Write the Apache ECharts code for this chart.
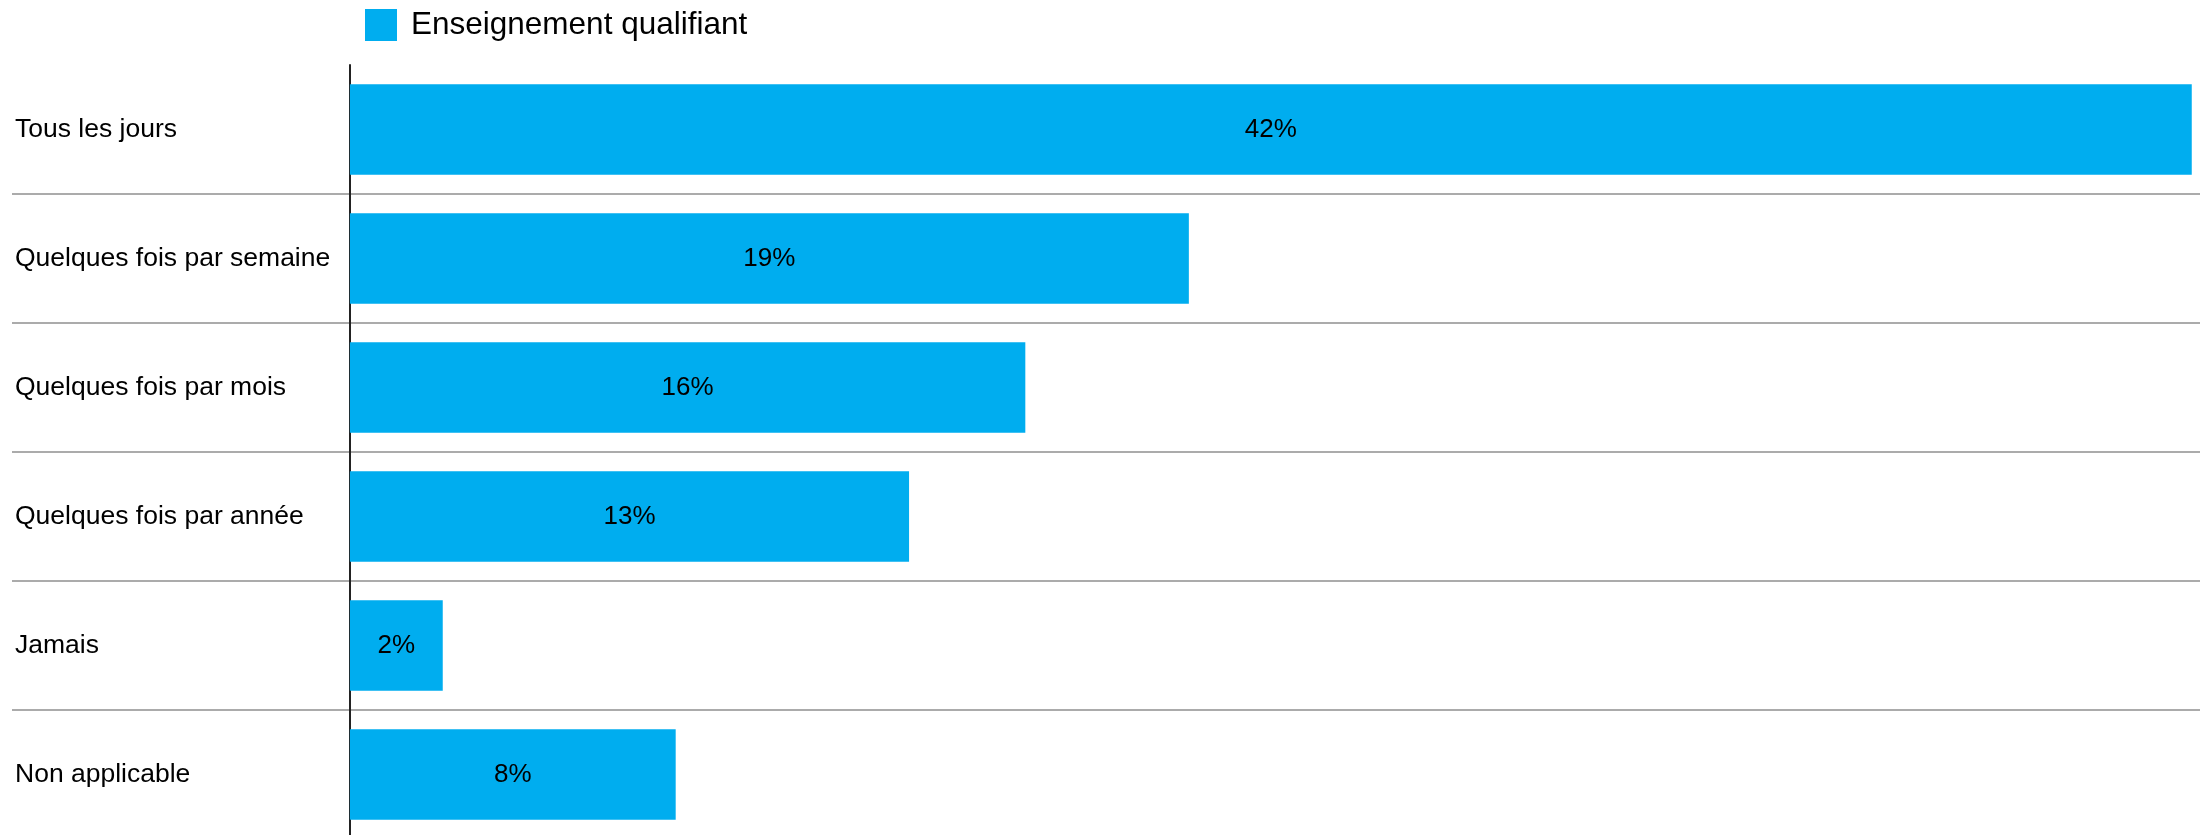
<!DOCTYPE html>
<html>
<head>
<meta charset="utf-8">
<script src="https://cdn.jsdelivr.net/npm/echarts@6/dist/echarts.min.js"></script>
<style>
  html, body { margin: 0; padding: 0; background: #fff; }
  #chart { width: 2200px; height: 835px; }
</style>
</head>
<body>
<div id="chart"></div>
<script>
// categories, top to bottom
const categories = ['Tous les jours', 'Quelques fois par semaine', 'Quelques fois par mois',
  'Quelques fois par année', 'Jamais', 'Non applicable'];
// share in % (shown rounded)
const values = [42.46, 19.34, 15.57, 12.89, 2.14, 7.51];
const seriesName = 'Enseignement qualifiant';

const FONT = '"Liberation Sans", Arial, sans-serif';

const chart = echarts.init(document.getElementById('chart'), null, { renderer: 'canvas' });

chart.setOption({
  animation: false,
  color: ['#00ADEF'],
  legend: {
    data: [seriesName],
    left: 360,
    top: 4,
    icon: 'rect',
    itemWidth: 32,
    itemHeight: 32,
    textStyle: {
      color: '#000',
      fontSize: 31.5,
      fontFamily: FONT,
      padding: [8, 0, 0, 9]
    }
  },
  grid: {
    left: 12,
    right: 0,
    top: 65,
    height: 774,   // last band runs just past the bottom edge
    containLabel: false,
    outerBoundsMode: 'none'
  },
  xAxis: {
    type: 'value',
    min: -7.79,     // puts 0 at the vertical axis, leaves room for labels
    max: 42.65,
    show: false
  },
  yAxis: {
    type: 'category',
    inverse: true,
    data: categories,
    axisLine: {
      onZero: true,
      lineStyle: { color: '#222', width: 2 }
    },
    axisTick: { show: false },
    axisLabel: {
      align: 'left',
      margin: -3,     // labels sit at the grid's left edge, drawn inward
      color: '#000',
      fontSize: 26.5,
      fontFamily: FONT,
      padding: [4, 0, 0, 0]
    },
    splitLine: {
      show: true,
      interval: function (idx) { return idx !== 0; },
      lineStyle: { color: '#8f8f8f', width: 1.5 }
    }
  },
  series: [{
    name: seriesName,
    type: 'bar',
    data: values,
    barCategoryGap: '30%',
    label: {
      show: true,
      position: 'inside',
      color: '#000',
      fontSize: 26,
      fontFamily: FONT,
      padding: [4, 0, 0, 0],
      formatter: function (p) { return Math.round(p.value) + '%'; }
    }
  }]
});
</script>
</body>
</html>
